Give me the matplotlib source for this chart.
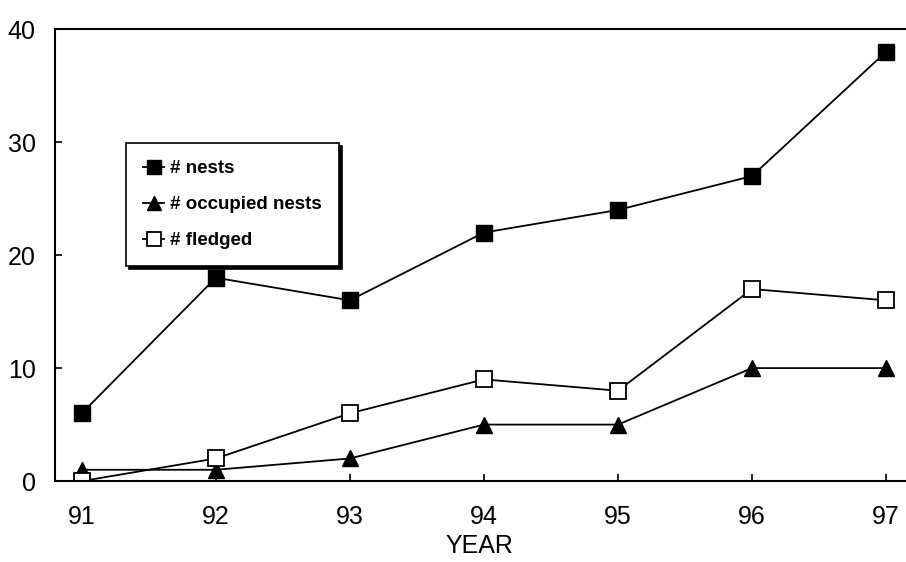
import matplotlib.pyplot as plt

years = [91, 92, 93, 94, 95, 96, 97]
nests = [6, 18, 16, 22, 24, 27, 38]
occupied = [1, 1, 2, 5, 5, 10, 10]
fledged = [0, 2, 6, 9, 8, 17, 16]

plt.rcParams['font.family'] = ['Liberation Sans', 'DejaVu Sans']

fig = plt.figure(figsize=(9.06, 5.62), dpi=100)
ax = fig.add_axes([0.0607, 0.144, 0.938, 0.804])

ax.plot(years, nests, color='black', lw=1.3, marker='s', ms=12,
        mfc='black', mec='black', label='# nests')
ax.plot(years, occupied, color='black', lw=1.3, marker='^', ms=12,
        mfc='black', mec='black', label='# occupied nests')
ax.plot(years, fledged, color='black', lw=1.3, marker='s', ms=12,
        mfc='white', mec='black', mew=1.3, label='# fledged')

ax.set_xlim(90.8, 97.14)
ax.set_ylim(0, 40)
ax.set_xticks(years)
ax.set_yticks([0, 10, 20, 30, 40])
ax.tick_params(direction='in', length=5, width=1.2, labelsize=18)
ax.tick_params(axis='x', pad=17)
ax.tick_params(axis='y', pad=14)
ax.set_xlabel('YEAR', fontsize=18, labelpad=4)

ax.spines['right'].set_visible(False)
for s in ['left', 'bottom', 'top']:
    ax.spines[s].set_linewidth(1.5)

leg = ax.legend(loc='upper left', bbox_to_anchor=(0.073, 0.768),
                prop={'weight': 'bold', 'size': 13.5}, frameon=True, fancybox=False,
                edgecolor='black', shadow={'color': 'black', 'alpha': 1},
                handlelength=1.1, handletextpad=0.35, borderpad=0.9,
                labelspacing=1.0, markerscale=0.85)
leg.get_frame().set_linewidth(1.2)

fig.savefig('out.png', dpi=100)
